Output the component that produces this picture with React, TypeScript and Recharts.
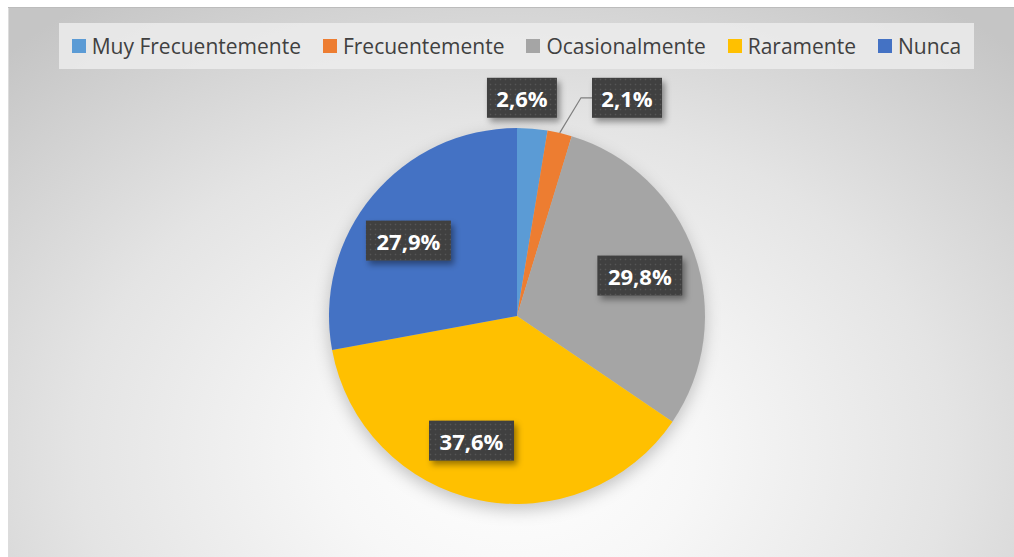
import { Pie, PieChart, Cell } from 'recharts'

const categories = ['Muy Frecuentemente', 'Frecuentemente', 'Ocasionalmente', 'Raramente', 'Nunca']
const percentages = [2.6, 2.1, 29.8, 37.6, 27.9]
const colors = ['#5B9BD5', '#ED7D31', '#A5A5A5', '#FFC000', '#4472C4']

const data = categories.map((name, i) => ({ name, value: percentages[i] }))

// label placement (Excel "best fit" approximations)
const labelRadius = [1.17, 1.17, 0.71, 0.71, 0.71]
const labelNudge: [number, number][] = [
  [-13, 1],
  [60, -4],
  [-3, 4],
  [-18, -6],
  [-6, 10],
]
const showLeader = [false, true, false, false, false]

const RADIAN = Math.PI / 180
const fmt = (v: number) => v.toFixed(1).replace('.', ',') + '%'

function DataLabel(props: any) {
  const { cx, cy, midAngle, outerRadius, index, value } = props
  const r = outerRadius * labelRadius[index]
  const x = cx + r * Math.cos(-midAngle * RADIAN) + labelNudge[index][0]
  const y = cy + r * Math.sin(-midAngle * RADIAN) + labelNudge[index][1]
  const text = fmt(value)
  const w = text.length * 15 + 10
  const h = 40
  let leader = null
  if (showLeader[index]) {
    const sx = cx + outerRadius * Math.cos(-midAngle * RADIAN)
    const sy = cy + outerRadius * Math.sin(-midAngle * RADIAN)
    const bx = x - w / 2
    leader = (
      <polyline
        points={`${sx},${sy} ${bx - 11},${y} ${bx},${y}`}
        fill="none"
        stroke="#7f7f7f"
        strokeWidth={1.2}
      />
    )
  }
  return (
    <g>
      {leader}
      <rect x={x - w / 2} y={y - h / 2} width={w} height={h} fill="url(#dots)" filter="url(#boxShadow)" />
      <text
        x={x}
        y={y}
        textAnchor="middle"
        dominantBaseline="central"
        fill="#ffffff"
        fontFamily="'Open Sans', sans-serif"
        fontWeight={700}
        fontSize={22}
      >
        {text}
      </text>
    </g>
  )
}

export default function App() {
  return (
    <div style={{ position: 'absolute', left: 0, top: 0, width: 1014, height: 557, background: '#fff', overflow: 'hidden' }}>
      <style>{`.pie-wrap .recharts-pie { filter: drop-shadow(0 6px 8px rgba(0,0,0,0.22)); }`}</style>
      <svg width={0} height={0} style={{ position: 'absolute' }}>
        <defs>
          <pattern id="dots" width={5} height={5} patternUnits="userSpaceOnUse">
            <rect width={5} height={5} fill="#404040" />
            <circle cx={2.5} cy={2.5} r={0.8} fill="#575757" />
          </pattern>
          <filter id="boxShadow" x="-20%" y="-30%" width="150%" height="180%">
            <feDropShadow dx={3} dy={4} stdDeviation={3} floodColor="#000" floodOpacity={0.4} />
          </filter>
        </defs>
      </svg>
      <div
        className="pie-wrap"
        style={{
          position: 'absolute',
          left: 8,
          top: 7,
          width: 1010,
          height: 555,
          background:
            'radial-gradient(ellipse 72% 100% at 50% 80%, #ffffff 0%, #f7f7f7 25%, #e4e4e4 60%, #c5c5c5 100%)',
          boxShadow: 'inset 0 1px 0 #bcbcbc, inset 1px 0 0 #dcdcdc',
        }}
      >
        <div
          style={{
            position: 'absolute',
            left: 51,
            top: 16,
            width: 915,
            height: 46,
            background: 'rgba(236,236,236,0.85)',
            display: 'flex',
            alignItems: 'center',
            justifyContent: 'center',
            gap: 22,
            fontFamily: "'Open Sans', sans-serif",
            fontSize: 21,
            color: '#404040',
          }}
        >
          {categories.map((c, i) => (
            <div key={c} style={{ display: 'flex', alignItems: 'center', gap: 6 }}>
              <span style={{ width: 14, height: 14, background: colors[i], display: 'inline-block' }} />
              <span>{c}</span>
            </div>
          ))}
        </div>
        <div style={{ position: 'absolute', left: 0, top: 0 }}>
          <PieChart width={1010} height={555} margin={{ top: 0, right: 0, bottom: 0, left: 0 }}>
            <Pie
              data={data}
              dataKey="value"
              nameKey="name"
              cx={509}
              cy={309}
              outerRadius={188}
              startAngle={90}
              endAngle={-270}
              stroke="none"
              label={DataLabel}
              labelLine={false}
              isAnimationActive={false}
            >
              {data.map((d, i) => (
                <Cell key={d.name} fill={colors[i]} />
              ))}
            </Pie>
          </PieChart>
        </div>
      </div>
    </div>
  )
}
